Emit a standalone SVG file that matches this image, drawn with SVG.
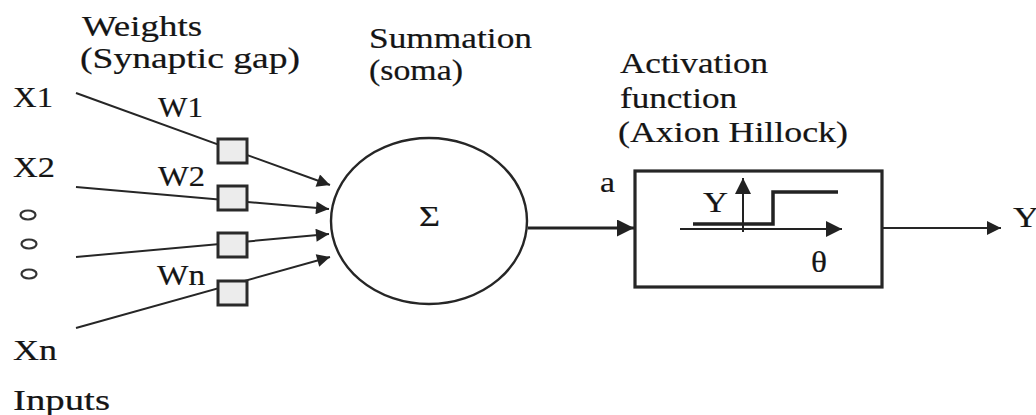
<svg xmlns="http://www.w3.org/2000/svg" width="1036" height="415" viewBox="0 0 1036 415">
<style>
text{font-family:'Liberation Serif','Times New Roman','Nimbus Roman','FreeSerif','Noto Serif','DejaVu Serif',serif;font-size:29px;fill:#151515;stroke:#151515;stroke-width:0.2}
.ln{stroke:#262626;stroke-width:2;fill:none}
.sq{fill:#ececec;stroke:#2a2a2a;stroke-width:3}
.dot{fill:none;stroke:#333;stroke-width:2.2}
</style>
<defs>
<marker id="arr" viewBox="0 0 10 10" refX="10" refY="5" markerUnits="userSpaceOnUse" markerWidth="16" markerHeight="13" orient="auto"><path d="M0,0 L10,5 L0,10 z" fill="#222"/></marker>
<marker id="arrBig" viewBox="0 0 10 10" refX="10" refY="5" markerUnits="userSpaceOnUse" markerWidth="19" markerHeight="17" orient="auto"><path d="M0,0 L10,5 L0,10 z" fill="#222"/></marker>
<marker id="arrOut" viewBox="0 0 10 10" refX="10" refY="5" markerUnits="userSpaceOnUse" markerWidth="18" markerHeight="14" orient="auto"><path d="M0,0 L10,5 L0,10 z" fill="#222"/></marker>
<marker id="arrAx" viewBox="0 0 10 10" refX="10" refY="5" markerUnits="userSpaceOnUse" markerWidth="17" markerHeight="16" orient="auto"><path d="M0,0 L10,5 L0,10 z" fill="#222"/></marker>
</defs>

<g id="connectors">
<line class="ln" x1="76" y1="93" x2="330" y2="185" marker-end="url(#arr)"/>
<line class="ln" x1="76" y1="187" x2="329" y2="209" marker-end="url(#arr)"/>
<line class="ln" x1="76" y1="257" x2="329" y2="234" marker-end="url(#arr)"/>
<line class="ln" x1="76" y1="328" x2="330" y2="257" marker-end="url(#arr)"/>
<line x1="528" y1="228" x2="634" y2="228" stroke="#222" stroke-width="3.2" marker-end="url(#arrBig)"/>
<line class="ln" x1="882" y1="228" x2="1001" y2="228" marker-end="url(#arrOut)"/>
</g>

<g id="labels">
<text x="82" y="36" textLength="120" lengthAdjust="spacingAndGlyphs">Weights</text>
<text x="80" y="68" textLength="220" lengthAdjust="spacingAndGlyphs">(Synaptic gap)</text>
<text x="369" y="48" textLength="163" lengthAdjust="spacingAndGlyphs">Summation</text>
<text x="369" y="80" textLength="94" lengthAdjust="spacingAndGlyphs">(soma)</text>
<text x="620" y="73" textLength="148" lengthAdjust="spacingAndGlyphs">Activation</text>
<text x="620" y="108" textLength="117" lengthAdjust="spacingAndGlyphs">function</text>
<text x="618" y="142" textLength="230" lengthAdjust="spacingAndGlyphs">(Axion Hillock)</text>
<text x="13" y="410" textLength="97" lengthAdjust="spacingAndGlyphs">Inputs</text>
<text x="600" y="192" textLength="15" lengthAdjust="spacingAndGlyphs">a</text>
<text x="1013" y="227" textLength="26" lengthAdjust="spacingAndGlyphs">Y</text>
</g>

<g id="inputs">
<text x="13" y="107" textLength="40" lengthAdjust="spacingAndGlyphs">X1</text>
<text x="13" y="177" textLength="42" lengthAdjust="spacingAndGlyphs">X2</text>
<text x="13" y="360" textLength="44" lengthAdjust="spacingAndGlyphs">Xn</text>
<ellipse class="dot" cx="28" cy="215" rx="7.5" ry="4.5"/>
<ellipse class="dot" cx="29" cy="244" rx="7.5" ry="4.5"/>
<ellipse class="dot" cx="29" cy="274" rx="7.5" ry="4.5"/>
</g>

<g id="w1">
<rect class="sq" x="218" y="139" width="29" height="24"/>
<text x="158" y="117" textLength="45" lengthAdjust="spacingAndGlyphs">W1</text>
</g>
<g id="w2">
<rect class="sq" x="218" y="186" width="29" height="24"/>
<text x="158" y="186" textLength="47" lengthAdjust="spacingAndGlyphs">W2</text>
</g>
<g id="w3">
<rect class="sq" x="218" y="233" width="29" height="24"/>
</g>
<g id="wn">
<rect class="sq" x="218" y="281" width="29" height="24"/>
<text x="157" y="285" textLength="48" lengthAdjust="spacingAndGlyphs">Wn</text>
</g>

<g id="summation">
<ellipse cx="429" cy="221" rx="98" ry="83" fill="none" stroke="#262626" stroke-width="2.4"/>
<text x="419" y="226" textLength="21" lengthAdjust="spacingAndGlyphs">Σ</text>
</g>

<g id="activation">
<rect x="635" y="171" width="247" height="116" fill="none" stroke="#262626" stroke-width="3.2"/>
<line x1="680" y1="229" x2="842" y2="229" stroke="#222" stroke-width="2" marker-end="url(#arrAx)"/>
<line x1="743" y1="232" x2="743" y2="178" stroke="#222" stroke-width="2" marker-end="url(#arrAx)"/>
<polyline points="693,224 773,224 773,192 838,192" fill="none" stroke="#222" stroke-width="3.5"/>
<text x="703" y="212" textLength="25" lengthAdjust="spacingAndGlyphs">Y</text>
<text x="811" y="272" textLength="16" lengthAdjust="spacingAndGlyphs">θ</text>
</g>
</svg>
